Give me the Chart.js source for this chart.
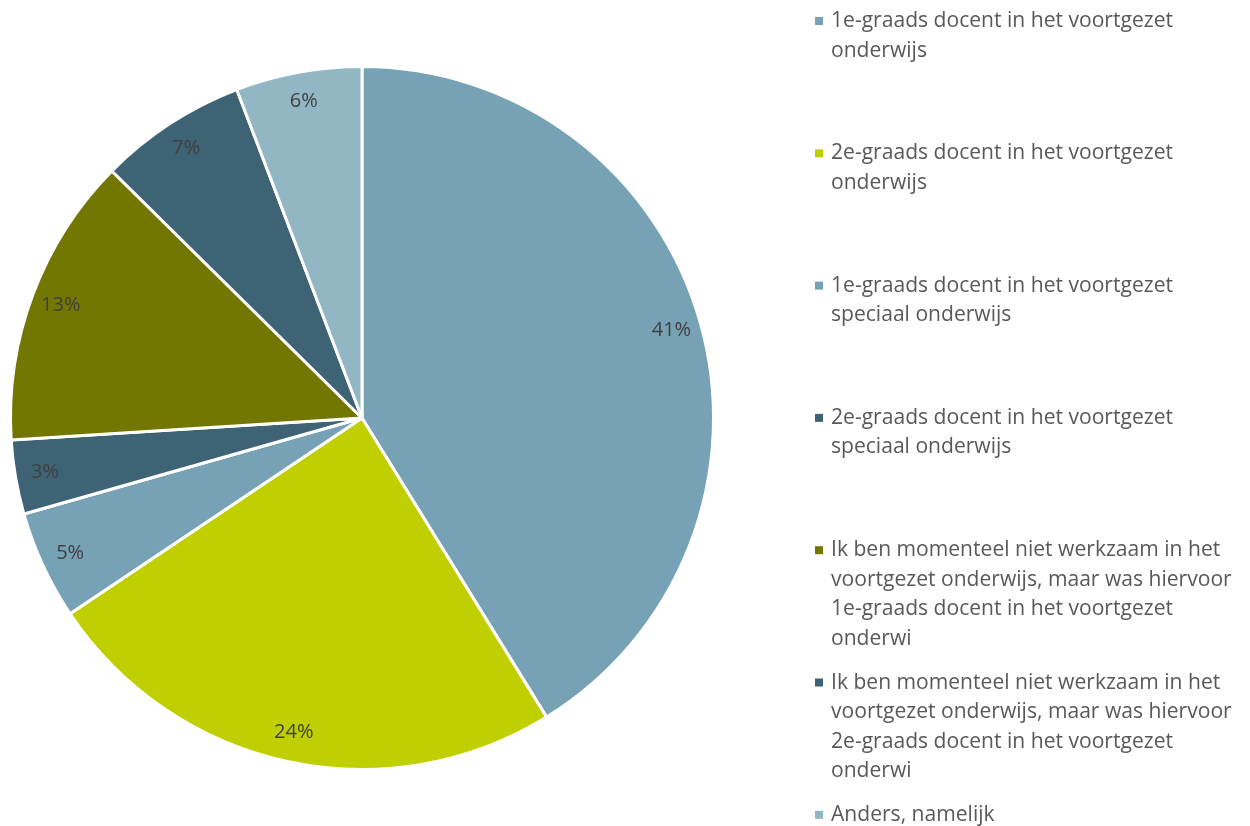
<!DOCTYPE html>
<html>
<head>
<meta charset="utf-8">
<script src="https://cdn.jsdelivr.net/npm/chart.js@4.4.0/dist/chart.umd.min.js"></script>
<style>
  html, body { margin: 0; padding: 0; background: #fff; }
  #wrap { width: 1250px; height: 826px; position: relative; }
</style>
</head>
<body>
<div id="wrap"><canvas id="myChart"></canvas></div>
<script>
const categorieen = [
    ['1e-graads docent in het voortgezet', 'onderwijs'],
    ['2e-graads docent in het voortgezet', 'onderwijs'],
    ['1e-graads docent in het voortgezet', 'speciaal onderwijs'],
    ['2e-graads docent in het voortgezet', 'speciaal onderwijs'],
    ['Ik ben momenteel niet werkzaam in het', 'voortgezet onderwijs, maar was hiervoor', '1e-graads docent in het voortgezet', 'onderwi'],
    ['Ik ben momenteel niet werkzaam in het', 'voortgezet onderwijs, maar was hiervoor', '2e-graads docent in het voortgezet', 'onderwi'],
    ['Anders, namelijk']
];
const percentages = [41.2, 24.4, 5.0, 3.4, 13.4, 6.8, 5.8];
const kleuren = ['#77A1B4', '#BFCF00', '#77A1B4', '#3E6374', '#717700', '#3E6374', '#93B6C5'];

const fontFam = '"Open Sans", "Noto Sans", sans-serif';

const labelPlugin = {
    id: 'sliceLabels',
    afterDatasetsDraw(chart) {
        const ctx = chart.ctx;
        const meta = chart.getDatasetMeta(0);
        ctx.save();
        ctx.font = '20px ' + fontFam;
        ctx.fillStyle = '#404040';
        ctx.textAlign = 'center';
        ctx.textBaseline = 'middle';
        meta.data.forEach((arc, i) => {
            const p = arc.getProps(['x', 'y', 'startAngle', 'endAngle', 'outerRadius'], true);
            const mid = (p.startAngle + p.endAngle) / 2;
            const r = p.outerRadius * 0.915;
            ctx.fillText(Math.round(percentages[i]) + '%', p.x + Math.cos(mid) * r, p.y + Math.sin(mid) * r);
        });
        ctx.restore();
    }
};

const legendPlugin = {
    id: 'sideLegend',
    afterDraw(chart) {
        const ctx = chart.ctx;
        ctx.save();
        // widest line should be about 401px wide, like in the picture
        ctx.font = '20px ' + fontFam;
        const w = ctx.measureText('voortgezet onderwijs, maar was hiervoor').width;
        const size = 20 * 401 / w;
        ctx.font = size.toFixed(2) + 'px ' + fontFam;
        ctx.textBaseline = 'middle';
        ctx.textAlign = 'left';
        chart.data.labels.forEach((lines, i) => {
            const y0 = 21 + i * 132.3;
            ctx.fillStyle = kleuren[i];
            ctx.fillRect(815, y0 - 4, 8, 8);
            ctx.fillStyle = '#595959';
            lines.forEach((line, k) => {
                ctx.fillText(line, 831, y0 + k * 29.5);
            });
        });
        ctx.restore();
    }
};

new Chart(document.getElementById('myChart').getContext('2d'), {
    type: 'pie',
    data: {
        labels: categorieen,
        datasets: [{
            data: percentages,
            backgroundColor: kleuren,
            borderColor: '#ffffff',
            borderWidth: 3
        }]
    },
    options: {
        responsive: true,
        maintainAspectRatio: false,
        animation: false,
        layout: {
            padding: { left: 9, right: 535, top: 65, bottom: 55 }
        },
        plugins: {
            legend: { display: false },
            tooltip: { enabled: false }
        }
    },
    plugins: [labelPlugin, legendPlugin]
});
</script>
</body>
</html>
